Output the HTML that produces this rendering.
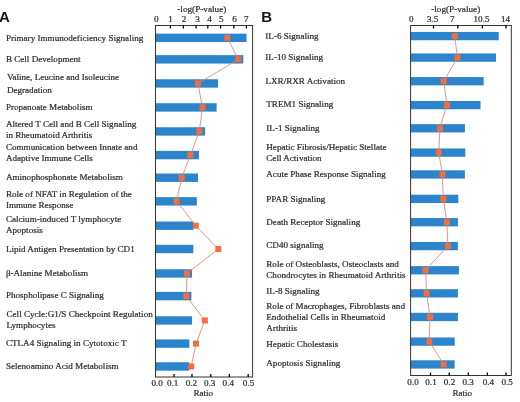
<!DOCTYPE html>
<html><head><meta charset="utf-8"><style>
html,body{margin:0;padding:0;background:#fff;}
body{width:520px;height:402px;overflow:hidden;}
svg{display:block;filter:blur(0.3px);}
text{}
.s{font-family:"Liberation Serif", serif;font-size:9.1px;fill:#303030;stroke:#303030;stroke-width:0.24px;}
.r{font-family:"Liberation Sans", sans-serif;font-size:8.5px;fill:#222;}
.L{font-family:"Liberation Sans", sans-serif;font-size:15px;font-weight:bold;fill:#111;}
</style></head><body>
<svg width="520" height="402" viewBox="0 0 520 402">
<rect width="520" height="402" fill="#fff"/>
<rect x="155.50" y="33.65" width="91.00" height="8.40" fill="#2b84cc"/>
<rect x="155.50" y="55.15" width="87.80" height="8.40" fill="#2b84cc"/>
<rect x="155.50" y="79.25" width="62.50" height="8.40" fill="#2b84cc"/>
<rect x="155.50" y="103.20" width="61.10" height="8.40" fill="#2b84cc"/>
<rect x="155.50" y="127.25" width="49.60" height="8.40" fill="#2b84cc"/>
<rect x="155.50" y="150.90" width="43.40" height="8.40" fill="#2b84cc"/>
<rect x="155.50" y="173.50" width="42.50" height="8.40" fill="#2b84cc"/>
<rect x="155.50" y="197.15" width="41.30" height="8.40" fill="#2b84cc"/>
<rect x="155.50" y="221.50" width="37.90" height="8.40" fill="#2b84cc"/>
<rect x="155.50" y="244.80" width="37.90" height="8.40" fill="#2b84cc"/>
<rect x="155.50" y="269.25" width="36.50" height="8.40" fill="#2b84cc"/>
<rect x="155.50" y="291.90" width="35.90" height="8.40" fill="#2b84cc"/>
<rect x="155.50" y="316.25" width="36.50" height="8.40" fill="#2b84cc"/>
<rect x="155.50" y="339.40" width="33.90" height="8.40" fill="#2b84cc"/>
<rect x="155.50" y="362.25" width="33.90" height="8.40" fill="#2b84cc"/>
<polyline points="227.30,37.85 238.40,59.35 197.90,83.45 202.50,107.40 199.30,131.45 190.40,155.10 181.70,177.70 176.70,201.35 195.80,225.70 218.30,249.00 187.00,273.45 186.30,296.10 204.90,320.45 196.00,343.60 191.20,366.45" fill="none" stroke="#e08a70" stroke-width="0.9"/>
<rect x="224.30" y="34.85" width="6" height="6" fill="#f66c3a"/>
<rect x="235.40" y="56.35" width="6" height="6" fill="#f66c3a"/>
<rect x="194.90" y="80.45" width="6" height="6" fill="#f66c3a"/>
<rect x="199.50" y="104.40" width="6" height="6" fill="#f66c3a"/>
<rect x="196.30" y="128.45" width="6" height="6" fill="#f66c3a"/>
<rect x="187.40" y="152.10" width="6" height="6" fill="#f66c3a"/>
<rect x="178.70" y="174.70" width="6" height="6" fill="#f66c3a"/>
<rect x="173.70" y="198.35" width="6" height="6" fill="#f66c3a"/>
<rect x="192.80" y="222.70" width="6" height="6" fill="#f66c3a"/>
<rect x="215.30" y="246.00" width="6" height="6" fill="#f66c3a"/>
<rect x="184.00" y="270.45" width="6" height="6" fill="#f66c3a"/>
<rect x="183.30" y="293.10" width="6" height="6" fill="#f66c3a"/>
<rect x="201.90" y="317.45" width="6" height="6" fill="#f66c3a"/>
<rect x="193.00" y="340.60" width="6" height="6" fill="#f66c3a"/>
<rect x="188.20" y="363.45" width="6" height="6" fill="#f66c3a"/>
<rect x="155.50" y="25.50" width="97.10" height="351.50" fill="none" stroke="#333" stroke-width="1"/>
<line x1="170.40" y1="25.50" x2="170.40" y2="28.50" stroke="#000" stroke-width="1.3"/>
<line x1="183.40" y1="25.50" x2="183.40" y2="28.50" stroke="#000" stroke-width="1.3"/>
<line x1="196.10" y1="25.50" x2="196.10" y2="28.50" stroke="#000" stroke-width="1.3"/>
<line x1="207.80" y1="25.50" x2="207.80" y2="28.50" stroke="#000" stroke-width="1.3"/>
<line x1="220.60" y1="25.50" x2="220.60" y2="28.50" stroke="#000" stroke-width="1.3"/>
<line x1="233.80" y1="25.50" x2="233.80" y2="28.50" stroke="#000" stroke-width="1.3"/>
<line x1="246.40" y1="25.50" x2="246.40" y2="28.50" stroke="#000" stroke-width="1.3"/>
<line x1="174.00" y1="377.00" x2="174.00" y2="374.00" stroke="#000" stroke-width="1.3"/>
<line x1="192.00" y1="377.00" x2="192.00" y2="374.00" stroke="#000" stroke-width="1.3"/>
<line x1="210.80" y1="377.00" x2="210.80" y2="374.00" stroke="#000" stroke-width="1.3"/>
<line x1="229.30" y1="377.00" x2="229.30" y2="374.00" stroke="#000" stroke-width="1.3"/>
<line x1="248.20" y1="377.00" x2="248.20" y2="374.00" stroke="#000" stroke-width="1.3"/>
<text x="156.30" y="22.3" text-anchor="middle" class="s">0</text>
<text x="170.50" y="22.3" text-anchor="middle" class="s">1</text>
<text x="184.00" y="22.3" text-anchor="middle" class="s">2</text>
<text x="197.60" y="22.3" text-anchor="middle" class="s">3</text>
<text x="209.50" y="22.3" text-anchor="middle" class="s">4</text>
<text x="221.20" y="22.3" text-anchor="middle" class="s">5</text>
<text x="234.50" y="22.3" text-anchor="middle" class="s">6</text>
<text x="246.20" y="22.3" text-anchor="middle" class="s">7</text>
<text x="157.20" y="386.30" text-anchor="middle" class="s">0.0</text>
<text x="172.60" y="386.30" text-anchor="middle" class="s">0.1</text>
<text x="191.40" y="386.30" text-anchor="middle" class="s">0.2</text>
<text x="209.70" y="386.30" text-anchor="middle" class="s">0.3</text>
<text x="228.30" y="386.30" text-anchor="middle" class="s">0.4</text>
<text x="248.50" y="386.30" text-anchor="middle" class="s">0.5</text>
<text x="201.80" y="11.6" text-anchor="middle" class="s" style="font-size:9.2px">-log(P-value)</text>
<text x="203.30" y="396.30" text-anchor="middle" class="s">Ratio</text>
<text x="5.90" y="40.80" class="s">Primary Immunodeficiency Signaling</text>
<text x="5.90" y="62.00" class="s">B Cell Development</text>
<text x="6.90" y="80.20" class="s">Valine, Leucine and Isoleucine</text>
<text x="6.90" y="92.50" class="s">Degradation</text>
<text x="5.90" y="109.50" class="s">Propanoate Metabolism</text>
<text x="5.90" y="127.00" class="s">Altered T Cell and B Cell Signaling</text>
<text x="5.90" y="137.50" class="s">in Rheumatoid Arthritis</text>
<text x="5.90" y="150.00" class="s">Communication between Innate and</text>
<text x="5.90" y="161.00" class="s">Adaptive Immune Cells</text>
<text x="5.90" y="179.80" class="s">Aminophosphonate Metabolism</text>
<text x="5.90" y="196.80" class="s">Role of NFAT in Regulation of the</text>
<text x="5.90" y="207.50" class="s">Immune Response</text>
<text x="5.90" y="222.20" class="s">Calcium-induced T lymphocyte</text>
<text x="5.90" y="233.30" class="s">Apoptosis</text>
<text x="5.90" y="251.70" class="s">Lipid Antigen Presentation by CD1</text>
<text x="5.90" y="276.00" class="s">β-Alanine Metabolism</text>
<text x="5.90" y="298.20" class="s">Phospholipase C Signaling</text>
<text x="6.50" y="317.00" class="s">Cell Cycle:G1/S Checkpoint Regulation</text>
<text x="6.50" y="327.80" class="s">Lymphocytes</text>
<text x="5.90" y="346.00" class="s">CTLA4 Signaling in Cytotoxic T</text>
<text x="5.90" y="368.80" class="s">Selenoamino Acid Metabolism</text>
<text x="-1.00" y="21.70" class="L">A</text>
<rect x="410.60" y="31.95" width="88.10" height="8.30" fill="#2b84cc"/>
<rect x="410.60" y="53.45" width="85.40" height="8.30" fill="#2b84cc"/>
<rect x="410.60" y="77.05" width="73.10" height="8.30" fill="#2b84cc"/>
<rect x="410.60" y="100.95" width="69.90" height="8.30" fill="#2b84cc"/>
<rect x="410.60" y="124.15" width="54.30" height="8.30" fill="#2b84cc"/>
<rect x="410.60" y="148.45" width="54.70" height="8.30" fill="#2b84cc"/>
<rect x="410.60" y="170.30" width="54.30" height="8.30" fill="#2b84cc"/>
<rect x="410.60" y="194.70" width="47.70" height="8.30" fill="#2b84cc"/>
<rect x="410.60" y="218.05" width="47.30" height="8.30" fill="#2b84cc"/>
<rect x="410.60" y="241.95" width="47.30" height="8.30" fill="#2b84cc"/>
<rect x="410.60" y="266.15" width="48.30" height="8.30" fill="#2b84cc"/>
<rect x="410.60" y="289.20" width="47.30" height="8.30" fill="#2b84cc"/>
<rect x="410.60" y="312.80" width="47.30" height="8.30" fill="#2b84cc"/>
<rect x="410.60" y="337.45" width="44.10" height="8.30" fill="#2b84cc"/>
<rect x="410.60" y="360.30" width="44.10" height="8.30" fill="#2b84cc"/>
<polyline points="454.70,36.10 457.50,57.60 443.70,81.20 446.90,105.10 439.90,128.30 438.80,152.60 442.40,174.45 443.30,198.85 446.90,222.20 447.90,246.10 425.50,270.30 426.60,293.35 430.00,316.95 429.30,341.60 443.70,364.45" fill="none" stroke="#e08a70" stroke-width="0.9"/>
<rect x="451.70" y="33.10" width="6" height="6" fill="#f66c3a"/>
<rect x="454.50" y="54.60" width="6" height="6" fill="#f66c3a"/>
<rect x="440.70" y="78.20" width="6" height="6" fill="#f66c3a"/>
<rect x="443.90" y="102.10" width="6" height="6" fill="#f66c3a"/>
<rect x="436.90" y="125.30" width="6" height="6" fill="#f66c3a"/>
<rect x="435.80" y="149.60" width="6" height="6" fill="#f66c3a"/>
<rect x="439.40" y="171.45" width="6" height="6" fill="#f66c3a"/>
<rect x="440.30" y="195.85" width="6" height="6" fill="#f66c3a"/>
<rect x="443.90" y="219.20" width="6" height="6" fill="#f66c3a"/>
<rect x="444.90" y="243.10" width="6" height="6" fill="#f66c3a"/>
<rect x="422.50" y="267.30" width="6" height="6" fill="#f66c3a"/>
<rect x="423.60" y="290.35" width="6" height="6" fill="#f66c3a"/>
<rect x="427.00" y="313.95" width="6" height="6" fill="#f66c3a"/>
<rect x="426.30" y="338.60" width="6" height="6" fill="#f66c3a"/>
<rect x="440.70" y="361.45" width="6" height="6" fill="#f66c3a"/>
<rect x="410.60" y="25.50" width="100.70" height="350.00" fill="none" stroke="#333" stroke-width="1"/>
<line x1="433.50" y1="25.50" x2="433.50" y2="28.50" stroke="#000" stroke-width="1.3"/>
<line x1="457.80" y1="25.50" x2="457.80" y2="28.50" stroke="#000" stroke-width="1.3"/>
<line x1="482.40" y1="25.50" x2="482.40" y2="28.50" stroke="#000" stroke-width="1.3"/>
<line x1="506.00" y1="25.50" x2="506.00" y2="28.50" stroke="#000" stroke-width="1.3"/>
<line x1="430.50" y1="375.50" x2="430.50" y2="372.50" stroke="#000" stroke-width="1.3"/>
<line x1="449.20" y1="375.50" x2="449.20" y2="372.50" stroke="#000" stroke-width="1.3"/>
<line x1="468.30" y1="375.50" x2="468.30" y2="372.50" stroke="#000" stroke-width="1.3"/>
<line x1="487.40" y1="375.50" x2="487.40" y2="372.50" stroke="#000" stroke-width="1.3"/>
<line x1="506.00" y1="375.50" x2="506.00" y2="372.50" stroke="#000" stroke-width="1.3"/>
<text x="411.30" y="22.3" text-anchor="middle" class="s">0</text>
<text x="432.70" y="22.3" text-anchor="middle" class="s">3.5</text>
<text x="452.30" y="22.3" text-anchor="middle" class="s">7</text>
<text x="481.50" y="22.3" text-anchor="middle" class="s">10.5</text>
<text x="505.50" y="22.3" text-anchor="middle" class="s">14</text>
<text x="413.00" y="384.80" text-anchor="middle" class="s">0.0</text>
<text x="431.00" y="384.80" text-anchor="middle" class="s">0.1</text>
<text x="449.50" y="384.80" text-anchor="middle" class="s">0.2</text>
<text x="468.20" y="384.80" text-anchor="middle" class="s">0.3</text>
<text x="488.40" y="384.80" text-anchor="middle" class="s">0.4</text>
<text x="507.10" y="384.80" text-anchor="middle" class="s">0.5</text>
<text x="455.70" y="11.6" text-anchor="middle" class="s" style="font-size:9.2px">-log(P-value)</text>
<text x="462.30" y="395.70" text-anchor="middle" class="s">Ratio</text>
<text x="265.30" y="39.00" class="s">IL-6 Signaling</text>
<text x="265.30" y="59.50" class="s">IL-10 Signaling</text>
<text x="265.50" y="84.20" class="s">LXR/RXR Activation</text>
<text x="266.30" y="107.20" class="s">TREM1 Signaling</text>
<text x="266.30" y="130.80" class="s">IL-1 Signaling</text>
<text x="266.30" y="149.80" class="s">Hepatic Fibrosis/Hepatic Stellate</text>
<text x="266.30" y="160.50" class="s">Cell Activation</text>
<text x="266.30" y="177.00" class="s">Acute Phase Response Signaling</text>
<text x="266.30" y="201.80" class="s">PPAR Signaling</text>
<text x="266.30" y="224.70" class="s">Death Receptor Signaling</text>
<text x="266.30" y="247.80" class="s">CD40 signaling</text>
<text x="266.30" y="267.20" class="s">Role of Osteoblasts, Osteoclasts and</text>
<text x="266.30" y="278.00" class="s">Chondrocytes in Rheumatoid Arthritis</text>
<text x="266.30" y="293.50" class="s">IL-8 Signaling</text>
<text x="266.30" y="308.80" class="s">Role of Macrophages, Fibroblasts and</text>
<text x="266.30" y="319.80" class="s">Endothelial Cells in Rheumatoid</text>
<text x="266.30" y="330.70" class="s">Arthritis</text>
<text x="266.30" y="346.50" class="s">Hepatic Cholestasis</text>
<text x="266.30" y="366.20" class="s">Apoptosis Signaling</text>
<text x="261.20" y="21.70" class="L">B</text>
</svg>
</body></html>
